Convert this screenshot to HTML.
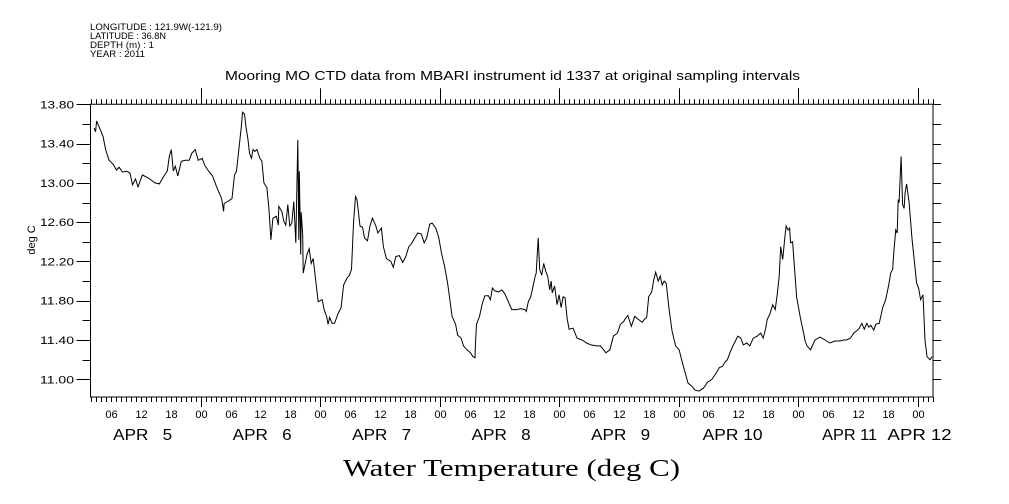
<!DOCTYPE html>
<html><head><meta charset="utf-8"><style>
body{margin:0;background:#fff;}
svg{display:block;font-family:"Liberation Sans",sans-serif;}
</style></head><body>
<svg id="chart" width="1009" height="504" viewBox="0 0 1009 504">
<g font-size="9" fill="#000">
<text x="90" y="30" textLength="132" lengthAdjust="spacingAndGlyphs">LONGITUDE : 121.9W(-121.9)</text>
<text x="90" y="39" textLength="76" lengthAdjust="spacingAndGlyphs">LATITUDE : 36.8N</text>
<text x="90" y="48" textLength="64" lengthAdjust="spacingAndGlyphs">DEPTH (m) : 1</text>
<text x="90" y="57" textLength="55" lengthAdjust="spacingAndGlyphs">YEAR : 2011</text>
</g>
<text x="225" y="80" textLength="575" lengthAdjust="spacingAndGlyphs" font-size="13">Mooring MO CTD data from MBARI instrument id 1337 at original sampling intervals</text>
<text transform="translate(35,240) rotate(-90)" text-anchor="middle" font-size="11">deg C</text>
<text x="343" y="476" textLength="337" lengthAdjust="spacingAndGlyphs" font-family="Liberation Serif,serif" font-size="24">Water Temperature (deg C)</text>
<g id="axes"></g>
<path id="line" fill="none" stroke="#000" stroke-width="1"></path>
</svg>
<script>
// hours since APR 5 00:00
const times=[2.6,2.9,3.1,3.7,4.4,4.9,5.6,6.4,7.1,7.6,8.3,9.1,9.8,10.3,10.9,11.4,12.3,13.5,14.8,15.7,16.5,17.3,17.7,18.1,18.5,18.9,19.4,20.1,20.9,21.7,22.2,22.9,23.5,24.3,24.8,25.6,26.4,27.2,28.2,28.6,28.7,29.4,30.3,30.8,31.2,31.8,32.2,32.4,32.8,33.1,33.5,33.8,34.2,34.5,34.9,35.3,35.9,36.3,36.7,37.3,37.7,38.1,38.5,39.2,39.6,39.7,40.3,40.7,41.1,41.5,41.9,42.3,42.7,43.1,43.5,43.7,43.8,44.1,44.2,44.5,44.6,45.0,45.4,45.8,46.2,46.6,47.0,47.6,48.4,48.8,49.3,49.6,49.9,50.4,50.9,51.6,52.2,52.7,53.4,53.9,54.3,54.7,55.1,55.4,56.0,56.5,56.9,57.5,58.0,58.5,59.2,59.6,60.3,60.7,61.3,62.2,62.7,63.2,63.9,64.6,65.2,65.8,66.3,67.0,67.6,68.3,68.9,69.4,70.0,70.5,71.2,71.8,72.4,73.0,73.6,74.0,74.5,75.2,75.6,76.3,76.8,77.5,78.2,78.7,79.1,79.2,79.4,80.0,80.6,81.1,81.8,82.2,82.6,83.1,83.8,84.5,85.1,85.8,86.5,87.5,88.3,
89.1,89.4,89.8,90.3,90.9,91.2,91.4,91.8,92.1,92.5,92.9,93.3,93.7,94.1,94.4,94.6,95.1,95.6,96.0,96.4,96.8,97.2,97.6,98.0,98.8,99.6,100.6,101.5,102.4,103.5,104.3,104.8,105.4,106.2,106.9,107.7,108.3,109.0,109.2,109.8,110.5,111.2,111.9,112.7,113.1,113.6,114.0,114.6,115.0,115.4,115.9,116.3,116.7,117.1,117.5,118.1,118.7,119.4,120.1,120.7,121.4,121.9,122.7,123.3,124.1,125.0,125.8,126.7,127.5,128.2,128.8,129.4,129.8,130.3,130.9,131.4,131.9,132.5,133.0,133.7,134.3,135.0,135.8,136.5,137.0,137.5,137.8,138.3,138.9,139.4,139.8,140.2,140.5,140.9,141.3,141.6,142.0,142.3,142.5,142.9,143.3,143.7,144.4,145.1,145.4,145.8,146.5,147.4,148.4,149.4,150.4,151.4,152.4,153.1,153.7,154.5,155.2,155.9,156.3,156.8,157.3,157.8,158.2,158.6,159.2,159.6,160.3,161.0,161.6,162.2,162.6,163.0,163.2,163.6,163.9,164.1,164.3,164.7,165.0,165.3,165.5,165.8,166.3,166.9,167.4,167.8,168.2,168.6,169.1,169.5,169.9,170.5,170.9];
const temps=[13.56,13.52,13.63,13.56,13.47,13.34,13.23,13.19,13.13,13.16,13.11,13.12,13.10,12.98,13.04,12.96,13.08,13.05,13.00,12.99,13.06,13.12,13.27,13.34,13.12,13.17,13.07,13.22,13.23,13.23,13.30,13.34,13.23,13.25,13.18,13.12,13.07,12.96,12.84,12.71,12.79,12.81,12.84,13.08,13.12,13.40,13.59,13.72,13.70,13.57,13.44,13.30,13.25,13.34,13.32,13.34,13.25,13.22,13.00,12.95,12.74,12.42,12.64,12.66,12.57,12.76,12.71,12.61,12.57,12.78,12.56,12.59,12.81,12.39,13.44,12.42,13.12,12.27,12.70,12.47,12.08,12.18,12.28,12.33,12.18,12.23,12.05,11.79,11.81,11.71,11.64,11.56,11.63,11.57,11.57,11.67,11.73,11.96,12.03,12.06,12.12,12.59,12.86,12.83,12.56,12.55,12.44,12.41,12.56,12.64,12.56,12.49,12.54,12.35,12.23,12.20,12.14,12.25,12.26,12.19,12.25,12.35,12.38,12.44,12.49,12.48,12.39,12.44,12.58,12.59,12.54,12.45,12.28,12.15,11.98,11.83,11.64,11.56,11.45,11.42,11.34,11.30,11.27,11.23,11.22,11.37,11.56,11.64,11.78,11.85,11.85,11.81,11.93,11.90,11.89,11.91,11.87,11.79,11.71,11.71,11.72,
11.71,11.69,11.79,11.84,11.98,12.05,12.08,12.44,12.12,12.06,12.18,12.10,12.05,11.91,12.00,11.88,11.95,11.76,11.86,11.73,11.84,11.83,11.62,11.51,11.52,11.42,11.40,11.37,11.35,11.34,11.34,11.31,11.27,11.30,11.44,11.47,11.56,11.59,11.61,11.65,11.54,11.64,11.61,11.58,11.61,11.63,11.84,11.89,12.01,12.09,12.00,12.05,11.96,12.00,11.98,11.71,11.49,11.34,11.30,11.18,11.05,10.96,10.93,10.89,10.88,10.91,10.97,11.00,11.06,11.12,11.13,11.18,11.20,11.27,11.34,11.39,11.44,11.42,11.35,11.37,11.34,11.42,11.44,11.47,11.42,11.52,11.61,11.66,11.76,11.71,11.86,12.05,12.35,12.22,12.42,12.56,12.52,12.54,12.39,12.40,12.12,11.84,11.64,11.47,11.39,11.34,11.30,11.40,11.43,11.40,11.37,11.39,11.39,11.40,11.40,11.42,11.47,11.50,11.52,11.57,11.51,11.57,11.53,11.55,11.50,11.56,11.57,11.73,11.81,11.96,12.08,12.12,12.28,12.52,12.49,12.83,12.80,13.27,12.78,12.74,12.90,12.99,12.80,12.42,12.18,11.98,11.93,11.81,11.86,11.40,11.23,11.20,11.23,11.19,11.21];
const yTickLabels=["11.00","11.40","11.80","12.20","12.60","13.00","13.40","13.80"];
const dayNames=["APR   5","APR   6","APR   7","APR   8","APR   9","APR 10","APR 11","APR 12"];
const hourLabels=["00","06","12","18"];

const X0=90.5,X1=933,Y0=104.3,Y1=397,TMIN=1.88,TMAX=171.1,VMIN=11.00,VMAX=13.80,VY0=379.3;
const sx=t=>81.2+t*(X1-81.2)/TMAX;
const sy=v=>VY0-(v-VMIN)*(VY0-Y0)/(VMAX-VMIN);
const NS="http://www.w3.org/2000/svg";
const ax=document.getElementById('axes');
function mk(tag,attrs){const e=document.createElementNS(NS,tag);for(const k in attrs)e.setAttribute(k,attrs[k]);ax.appendChild(e);return e;}
let p=`M${X0},${Y0}H${X1}V${Y1}H${X0}Z`;
for(let h=Math.ceil(TMIN);h<=TMAX;h++){
  const x=Math.round(sx(h))+0.5;
  const major=h%24===0;
  p+=`M${x},${Y0}V${Y0-(major?16:5)}M${x},${Y1}V${Y1+(major?10:5)}`;
  if(h%6===0){
    const t=mk('text',{x:x,y:418,'text-anchor':'middle','font-size':11});
    t.textContent=hourLabels[(h%24)/6];
    
    
  }
}
for(let i=0;i<=14;i++){
  const v=VMIN+i*0.2,y=Math.round(sy(v))+0.5;
  p+=`M${X0},${y}H${X0-(i%2===0?14:8)}M${X1},${y}H${X1+8}`;
}
for(let i=0;i<yTickLabels.length;i++){
  const t=mk('text',{x:40,y:sy(parseFloat(yTickLabels[i]))+4,'font-size':11,textLength:34,lengthAdjust:'spacingAndGlyphs'});
  t.textContent=yTickLabels[i];
  
  
}
for(let d=0;d<dayNames.length;d++){
  let off=d<5?32:24;
  let w=d<5?59:(d===6?55:60);
  if(d===dayNames.length-1){off=-30;w=64;}
  const t=mk('text',{x:sx(d*24)+off,y:440,'font-size':16,textLength:w,lengthAdjust:'spacingAndGlyphs'});
  t.style.whiteSpace='pre';
  t.textContent=dayNames[d];
  
  
}
const fr=mk('path',{d:p,stroke:'#000','stroke-width':1,fill:'none'});


let d='';
for(let i=0;i<times.length;i++)d+=(i?'L':'M')+sx(times[i]).toFixed(1)+','+sy(temps[i]).toFixed(1);
document.getElementById('line').setAttribute('d',d);
</script>
</body></html>
